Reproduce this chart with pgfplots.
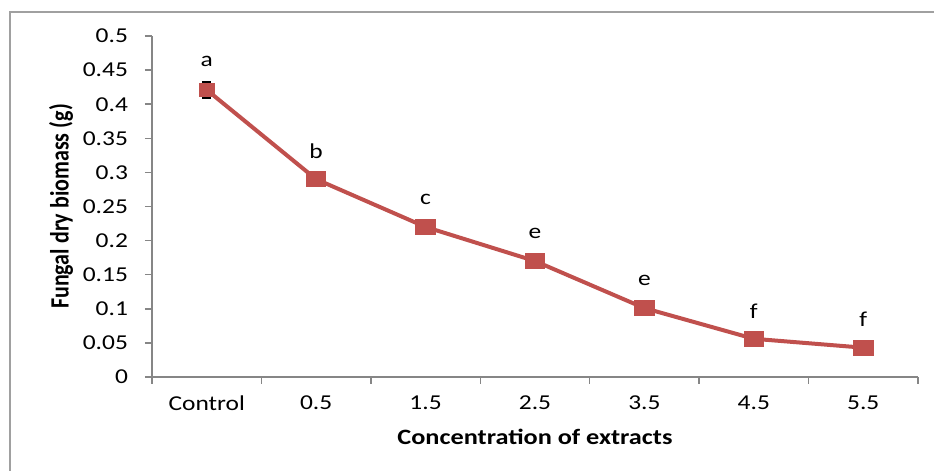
\documentclass[border=0pt]{standalone}
\usepackage{fontspec}
\setmainfont{Carlito}[FakeStretch=1.2]
\newfontfamily\yfont{Carlito}
\usepackage{graphicx}
\usepackage{pgfplots}
\pgfplotsset{compat=1.18}
\usepackage{pgfplotstable}
\definecolor{linered}{HTML}{C0504D}
\definecolor{axisgray}{HTML}{868686}
\definecolor{framegray}{HTML}{A0A0A0}
\pgfplotstableread{
x y lab
0 0.421 a
1 0.290 b
2 0.220 c
3 0.170 e
4 0.101 e
5 0.056 f
6 0.043 f
}\biomass
\pgfplotstableread{
x y err
0 0.421 0.012
}\errtab
\begin{document}
\begin{tikzpicture}[font=\fontsize{10.6}{12.7}\selectfont]
\useasboundingbox (0,0) rectangle (467pt,235.5pt);
\draw[framegray, line width=1pt] (5pt,0) -- (5pt,229.5pt) -- (467pt,229.5pt);
\begin{axis}[
  at={(76pt,47pt)}, anchor=south west,
  scale only axis, width=383pt, height=170.5pt,
  xmin=-0.5, xmax=6.5, ymin=0, ymax=0.5,
  clip=false,
  axis x line=bottom, axis y line=left,
  axis line style={-, draw=axisgray, line width=0.75pt},
  major tick length=0pt, minor tick length=3.5pt, tick align=outside,
  tick style={draw=axisgray, line width=0.75pt},
  xtick={0,1,2,3,4,5,6},
  xticklabels={Control,0.5,1.5,2.5,3.5,4.5,5.5},
  minor xtick={-0.5,0.5,1.5,2.5,3.5,4.5,5.5,6.5},
  ytick={0,0.05,0.1,0.15,0.2,0.25,0.3,0.35,0.4,0.45,0.5},
  yticklabels={0,0.05,0.1,0.15,0.2,0.25,0.3,0.35,0.4,0.45,0.5},
  minor ytick={0,0.05,0.1,0.15,0.2,0.25,0.3,0.35,0.4,0.45,0.5},
  x tick label style={font=\fontsize{10.6}{12.7}\selectfont, yshift=-6pt},
  y tick label style={font=\fontsize{10.6}{12.7}\selectfont, xshift=-8.5pt},
  xlabel={\bfseries Concentration of extracts},
  xlabel style={at={(axis description cs:0.5,-0.176)}, anchor=center, font=\fontsize{10.95}{13}\selectfont},
  ylabel={\yfont\bfseries\scalebox{1}[1.2]{Fungal dry biomass (g)}},
  ylabel style={at={(axis description cs:-0.1188,0.5)}, anchor=center, font=\fontsize{11}{13}\selectfont},
]
\addplot[linered, line width=2pt, mark=none,
  nodes near coords, point meta=explicit symbolic,
  every node near coord/.append style={anchor=center, yshift=14pt, text=black, font=\fontsize{10.6}{12.7}\selectfont}]
  table[x=x, y=y, meta=lab] {\biomass};
\addplot[linered, only marks, mark=square*, mark size=3.75pt,
  mark options={xscale=1.3, solid, fill=linered, draw=linered},
  restrict x to domain=0.5:6.5]
  table[x=x, y=y] {\biomass};
\addplot[black, only marks, mark=square*, mark size=3.3pt,
  mark options={xscale=1.1, fill=linered, draw=linered},
  error bars/.cd, y dir=both, y explicit,
  error bar style={black, line width=0.8pt},
  error mark options={black, line width=0.8pt, mark size=2.2pt, rotate=90}]
  table[x=x, y=y, y error=err] {\errtab};
\end{axis}
\end{tikzpicture}
\end{document}
